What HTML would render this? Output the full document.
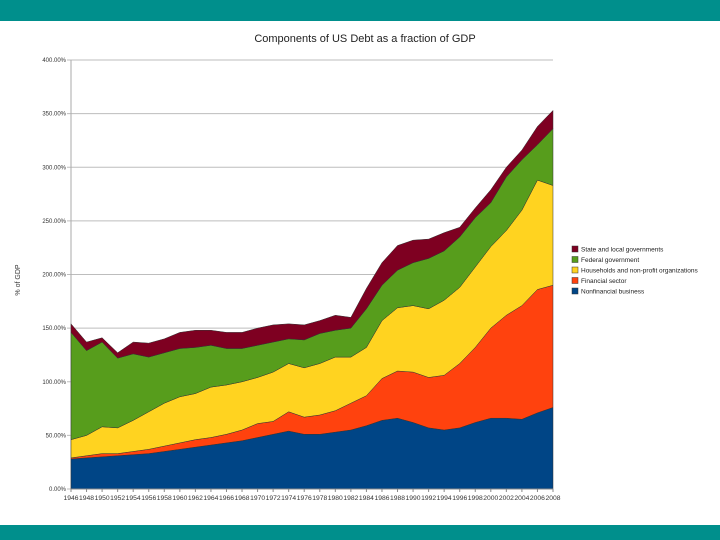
<!DOCTYPE html>
<html><head><meta charset="utf-8">
<style>
html,body{margin:0;padding:0;background:#fff;}
body{width:720px;height:540px;position:relative;overflow:hidden;font-family:"Liberation Sans",sans-serif;}
.bar{position:absolute;left:0;width:720px;background:#008f8c;}
</style></head>
<body>
<div class="bar" style="top:0;height:21px"></div>
<div class="bar" style="top:525px;height:15px"></div>
<svg id="chart" width="720" height="540" style="position:absolute;left:0;top:0"></svg>
<script>
const years=[1946,1948,1950,1952,1954,1956,1958,1960,1962,1964,1966,1968,1970,1972,1974,1976,1978,1980,1982,1984,1986,1988,1990,1992,1994,1996,1998,2000,2002,2004,2006,2008];
const nonfinancial=[28,29,30,31,32,33,35,37,39,41,43,45,48,51,54,51,51,53,55,59,64,66,62,57,55,57,62,66,66,65,71,76];
const financial=[1,2,3,2,3,4,5,6,7,7,8,10,13,12,18,16,18,20,25,28,39,44,47,47,51,60,70,84,96,106,115,114];
const households=[17,19,25,24,29,35,40,43,43,47,46,45,43,46,45,46,48,50,43,45,54,59,62,64,70,71,75,76,79,89,102,93];
const federal=[100,79,79,65,62,51,47,45,43,39,34,31,30,28,23,26,28,25,27,36,33,35,40,47,46,47,46,41,50,47,33,53];
const stateLocal=[8,8,4,5,11,13,13,15,16,14,15,15,16,16,14,14,12,14,10,19,21,23,21,18,17,9,9,12,9,9,17,17];
const yTicks=[0,50,100,150,200,250,300,350,400];
const seriesNames=["State and local governments","Federal government","Households and non-profit organizations","Financial sector","Nonfinancial business"];

const svg=document.getElementById('chart');
const NS='http://www.w3.org/2000/svg';
const X0=71,X1=553,Y0=489,Y1=60;
const xs=i=>X0+(years[i]-years[0])/(years[years.length-1]-years[0])*(X1-X0);
const ys=v=>Y0-v/400*(Y0-Y1);
function mk(tag,attrs){const e=document.createElementNS(NS,tag);for(const k in attrs)e.setAttribute(k,attrs[k]);svg.appendChild(e);return e;}

let t=mk('text',{x:365,y:42,'text-anchor':'middle','font-size':11,fill:'#222'});
t.textContent='Components of US Debt as a fraction of GDP';



yTicks.forEach(v=>{
  const g=mk('line',{x1:X0-4,x2:X1,y1:ys(v),y2:ys(v),stroke:'#bdbdbd','stroke-width':1});
  
  
  const l=mk('text',{x:X0-5,y:ys(v)+2,'text-anchor':'end','font-size':6,fill:'#333'});
  l.textContent=v.toFixed(2)+'%';
  
  
});
mk('line',{x1:X0,x2:X0,y1:Y1,y2:Y0,stroke:'#aaa'});

let yt=mk('text',{x:20,y:280,'text-anchor':'middle','font-size':7,fill:'#333',transform:'rotate(-90 20 280)'});
yt.textContent='% of GDP';



const layers=[nonfinancial,financial,households,federal,stateLocal];
const colors=['#004586','#ff420e','#ffd320','#579d1c','#7e0021'];
const names=['area-nonfinancial','area-financial','area-households','area-federal','area-state-local'];
let base=years.map(()=>0);
layers.forEach((arr,k)=>{
  const top=base.map((b,i)=>b+arr[i]);
  let d='M'+xs(0)+','+ys(top[0]);
  for(let i=1;i<years.length;i++)d+='L'+xs(i)+','+ys(top[i]);
  for(let i=years.length-1;i>=0;i--)d+='L'+xs(i)+','+ys(base[i]);
  const p=mk('path',{d:d+'Z',fill:colors[k],stroke:'#333','stroke-width':0.5});
  
  
  base=top;
});
mk('line',{x1:X0,x2:X1,y1:Y0,y2:Y0,stroke:'#888'});

years.forEach((y,i)=>{
  mk('line',{x1:xs(i),x2:xs(i),y1:Y0,y2:Y0+3,stroke:'#888'});
  const l=mk('text',{x:xs(i),y:Y0+11,'text-anchor':'middle','font-size':6.5,fill:'#333',textLength:15,lengthAdjust:'spacingAndGlyphs'});
  l.textContent=y;
  
  
});

const legCols=['#7e0021','#579d1c','#ffd320','#ff420e','#004586'];
seriesNames.forEach((n,i)=>{
  const y=249+i*10.5;
  const r=mk('rect',{x:572,y:y-3,width:6,height:6,fill:legCols[i],stroke:'#333','stroke-width':0.5});
  
  
  const l=mk('text',{x:581,y:y+2.5,'font-size':6.5,fill:'#222'});
  l.textContent=n;
  
  
});
</script>
</body></html>
